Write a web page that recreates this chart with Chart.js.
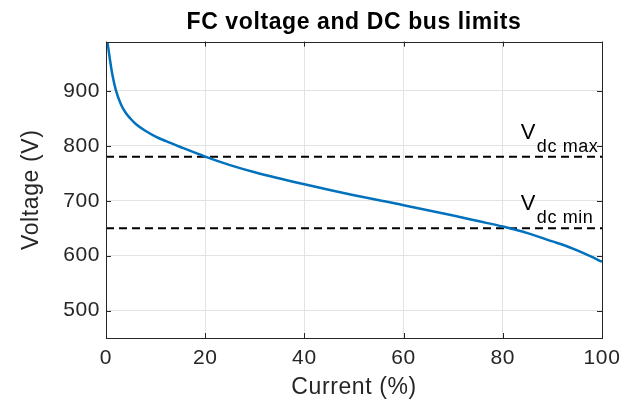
<!DOCTYPE html>
<html>
<head>
<meta charset="utf-8">
<script src="https://cdn.jsdelivr.net/npm/chart.js@4/dist/chart.umd.min.js"></script>
<style>
  html, body { margin: 0; padding: 0; background: #fff; }
  #wrap { width: 635px; height: 401px; }
</style>
</head>
<body>
<div id="wrap"><canvas id="chart"></canvas></div>
<script>
const current = [0.3, 0.8, 1.3, 2, 3, 4, 5, 6, 8, 10, 12, 15, 20, 25, 30, 40, 50, 60, 70, 75, 80, 85, 90, 92.5, 95, 97.5, 100]
const voltage = [989, 957, 929, 901, 876, 860, 849, 840, 827, 817, 809, 798, 780.5, 765, 752, 730, 710, 692, 673, 663, 653, 641, 626, 618.5, 609.5, 599.5, 589]
const vdcMax = 780
const vdcMin = 650
const limitLabels = [["V", "dc max", vdcMax], ["V", "dc min", vdcMin]]
const xTicks = [0, 20, 40, 60, 80, 100]
const yTicks = [500, 600, 700, 800, 900]

const axisColor = "#262626"
const fontFamily = "Arial, 'Liberation Sans', Helvetica, sans-serif"
const spacing = "0.6px"

const boxAndTicks = {
  id: "boxAndTicks",
  beforeDraw(chart) {
    chart.ctx.letterSpacing = spacing
  },
  afterDraw(chart) {
    const { ctx, chartArea: a, scales: { x, y } } = chart
    ctx.save()
    ctx.strokeStyle = axisColor
    ctx.lineWidth = 1
    ctx.beginPath()
    xTicks.forEach(v => {
      const px = Math.round(x.getPixelForValue(v)) + 0.5
      ctx.moveTo(px, a.bottom); ctx.lineTo(px, a.bottom - 5)
      ctx.moveTo(px, a.top); ctx.lineTo(px, a.top + 5)
    })
    yTicks.forEach(v => {
      const py = Math.round(y.getPixelForValue(v)) + 0.5
      ctx.moveTo(a.left, py); ctx.lineTo(a.left + 5, py)
      ctx.moveTo(a.right, py); ctx.lineTo(a.right - 5, py)
    })
    ctx.stroke()
    ctx.strokeRect(Math.round(a.left) + 0.5, Math.round(a.top) + 0.5, Math.round(a.right - a.left), Math.round(a.bottom - a.top))

    // V_dc labels
    ctx.fillStyle = "#000"
    ctx.textBaseline = "alphabetic"
    ctx.textAlign = "left"
    ctx.letterSpacing = "0px"
    limitLabels.forEach(([main, sub, val]) => {
      const px = x.getPixelForValue(83.6)
      const py = y.getPixelForValue(val)
      ctx.font = "22px " + fontFamily
      ctx.fillText(main, px, py - 18)
      const w = ctx.measureText(main).width
      ctx.font = "18px " + fontFamily
      ctx.letterSpacing = "0.6px"
      ctx.fillText(sub, px + w + 1.5, py - 5)
      ctx.letterSpacing = "0px"
    })
    ctx.restore()
  }
}

new Chart(document.getElementById("chart"), {
  type: "scatter",
  data: {
    datasets: [
      {
        data: current.map((c, i) => ({ x: c, y: voltage[i] })),
        showLine: true,
        borderColor: "#0072BD",
        borderWidth: 2.5,
        pointRadius: 0,
        cubicInterpolationMode: "monotone"
      },
      {
        data: [{ x: 0, y: vdcMax }, { x: 100, y: vdcMax }],
        showLine: true,
        borderColor: "#000",
        borderWidth: 2,
        borderDash: [8, 5],
        pointRadius: 0
      },
      {
        data: [{ x: 0, y: vdcMin }, { x: 100, y: vdcMin }],
        showLine: true,
        borderColor: "#000",
        borderWidth: 2,
        borderDash: [8, 5],
        pointRadius: 0
      }
    ]
  },
  options: {
    responsive: true,
    maintainAspectRatio: false,
    animation: false,
    layout: { padding: { left: 0, right: 33, top: 0, bottom: 0 } },
    plugins: {
      legend: { display: false },
      tooltip: { enabled: false },
      title: {
        display: true,
        fullSize: false,
        text: "FC voltage and DC bus limits",
        color: "#000",
        font: { family: fontFamily, size: 23, weight: "bold" },
        padding: { top: 9, bottom: 5 }
      }
    },
    scales: {
      x: {
        type: "linear",
        min: 0,
        max: 100,
        afterBuildTicks: s => { s.ticks = xTicks.map(v => ({ value: v })) },
        afterFit: s => { s.height = 63; s.paddingLeft = 0; s.paddingRight = 0 },
        ticks: { color: axisColor, font: { family: fontFamily, size: 21 }, padding: 8, maxRotation: 0 },
        grid: { color: "#e3e3e3", drawTicks: false },
        border: { display: false },
        title: {
          display: true,
          text: "Current (%)",
          color: axisColor,
          font: { family: fontFamily, size: 23 },
          padding: { top: 0, bottom: 0 }
        }
      },
      y: {
        type: "linear",
        min: 450,
        max: 990,
        afterBuildTicks: s => { s.ticks = yTicks.map(v => ({ value: v })) },
        afterFit: s => { s.width = 106; s.paddingTop = 0; s.paddingBottom = 0 },
        ticks: { color: axisColor, font: { family: fontFamily, size: 21 }, padding: 6 },
        grid: { color: "#e3e3e3", drawTicks: false },
        border: { display: false },
        title: {
          display: true,
          text: "Voltage (V)",
          color: axisColor,
          font: { family: fontFamily, size: 23 },
          padding: { top: 18, bottom: 0 }
        }
      }
    }
  },
  plugins: [boxAndTicks]
})
</script>
</body>
</html>
